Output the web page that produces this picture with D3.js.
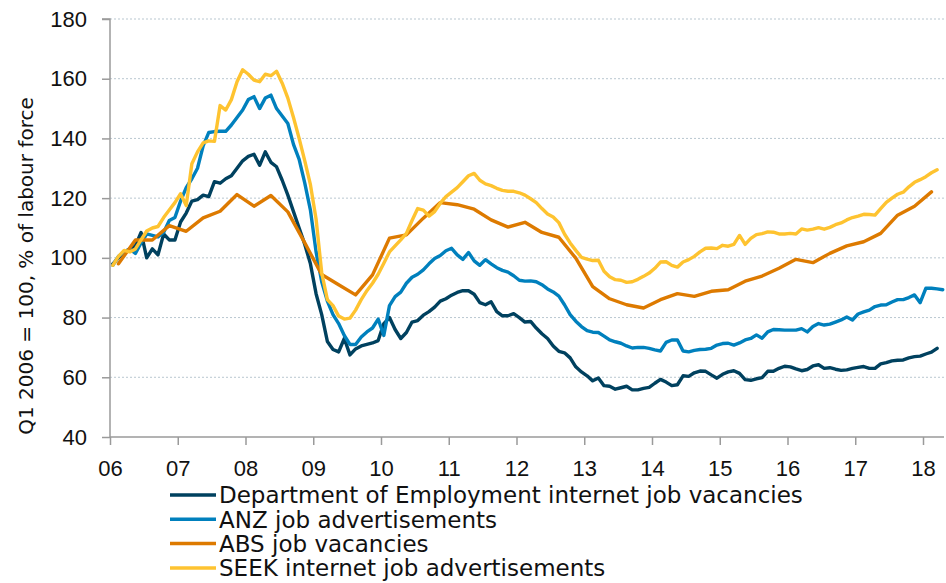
<!DOCTYPE html>
<html>
<head>
<meta charset="utf-8">
<script src="https://cdn.jsdelivr.net/npm/d3@7"></script>
<style>
  body { margin: 0; background: #fff; }
  svg { display: block; font-family: "DejaVu Sans", Verdana, sans-serif; }
</style>
</head>
<body>
<div id="chart"></div>
<script>
// monthly series, Jan 2006 onwards
const deptValues = [
  98, 100, 102, 103, 104, 108.5, 100, 103, 101, 108,
  106, 106, 112, 115, 119, 119.5, 121, 120.5, 125.5, 125,
  126.5, 127.5, 130, 132.5, 134, 134.7, 131, 135.5, 132, 130.5,
  126, 121, 115.5, 110, 104.5, 98, 88, 81, 72, 69.3,
  68.5, 73, 67.5, 69.5, 70.5, 71, 71.5, 72.3, 78, 80,
  76, 73, 75, 78.5, 79, 80.8, 82, 83.5, 85.5, 86.3,
  87.5, 88.4, 89, 89, 87.8, 85, 84.3, 85.3, 82, 80.6,
  80.6, 81.3, 80, 78.5, 78.7, 76.5, 74.6, 73, 70.5, 68.7,
  68.2, 66.5, 63.5, 61.8, 60.5, 58.8, 59.8, 57.2, 57, 56,
  56.5, 57, 55.8, 55.8, 56.3, 56.6, 58, 59.3, 58.4, 57.2,
  57.5, 60.5, 60.3, 61.5, 62.1, 62, 60.8, 59.7, 61, 61.8,
  62.2, 61.3, 59.2, 59, 59.5, 59.9, 62, 62, 63, 63.7,
  63.5, 62.8, 62.2, 62.6, 63.8, 64.2, 63, 63.2, 62.7, 62.3,
  62.5, 63, 63.3, 63.6, 63, 63, 64.5, 64.9, 65.5, 65.7,
  65.8, 66.5, 66.9, 67.1, 67.8, 68.4, 69.7
];
const anzValues = [
  97.5, 100.5, 102, 103, 101.5, 105, 108, 107.5, 107, 108.5,
  112.5, 113.5, 119, 123.5, 126.5, 130, 137.5, 142, 142.3, 142.4,
  142.4, 144.5, 147, 149.5, 153, 154, 150, 153.5, 154.5, 150,
  147.5, 145, 138, 133, 125, 116, 102, 92, 85.5, 81,
  78, 74, 71, 71, 73.5, 75.2, 76.5, 79.5, 74, 84,
  87, 88.5, 91.5, 93.5, 94.5, 96, 98, 99.8, 100.8, 102.4,
  103.2, 101, 99.5, 101.8, 99, 97.5, 99.4, 98, 96.7, 95.8,
  95.2, 94, 92.5, 92.2, 92.3, 92, 91, 89.6, 88.6, 87.2,
  84.3, 81, 78.8, 77, 75.6, 75.1, 75, 73.8, 72.5, 71.9,
  71.4, 70.5, 69.8, 70, 70, 69.7, 69.2, 68.8, 71.7, 72.5,
  72.5, 68.8, 68.5, 69, 69.3, 69.4, 69.7, 70.8, 71.3, 71.4,
  70.8, 71.5, 72.5, 73, 74.2, 73.1, 75.2, 76, 75.9, 75.8,
  75.8, 75.8, 76.3, 75.2, 77, 78, 77.5, 77.8, 78.5, 79.2,
  80.2, 79.2, 81.2, 81.9, 82.5, 83.7, 84.2, 84.3, 85.2, 86,
  86, 86.7, 87.6, 85, 89.8, 89.8, 89.6, 89.3
];
const seekValues = [
  97.5, 100.5, 102.5, 102, 103, 106, 109, 110, 110.5, 113.5,
  116, 118.5, 121.5, 117.5, 131.5, 135.5, 138.5, 139.2, 139, 151,
  149.5, 153, 159, 163, 161.5, 159.5, 159, 161.5, 161, 162.5,
  158.5, 153.5, 147, 140, 132.5, 124.5, 113, 95, 86, 84,
  80.5, 79.5, 79.8, 82.5, 86, 89, 91.5, 94.5, 98.2, 102,
  104, 106, 108.2, 112.5, 116.5, 116, 114, 115.5, 118.3, 120.5,
  122, 123.5, 125.5, 127.5, 128.3, 126, 124.8, 124.2, 123.3, 122.6,
  122.3, 122.3, 121.8, 121, 119.8, 118.5, 116.5, 114.7, 113.7, 111.8,
  108, 105, 102.5, 100.2, 99.6, 99.1, 99.2, 95.5, 93.7, 92.7,
  92.5, 91.8, 92, 92.8, 93.8, 94.9, 96.5, 98.6, 98.7, 97.5,
  96.9, 98.6, 99.4, 100.5, 102, 103.2, 103.3, 103.1, 104.2, 103.9,
  104.5, 107.5, 104.5, 106.5, 107.8, 108.1, 108.7, 108.6, 108, 108,
  108.2, 108, 109.7, 109.3, 109.6, 110.1, 109.6, 110.2, 111.1, 111.7,
  112.7, 113.5, 114, 114.6, 114.5, 114.3, 116.5, 118.6, 120, 121.3,
  122, 123.8, 125.3, 126.2, 127.2, 128.5, 129.5
];
// quarterly, 2006 Q1 onwards
const absValues = [
  98, 106, 106, 110.8, 108.9, 113.4, 115.6, 121.2, 117.3, 120.9,
  115.4, 105, 94.4, 91, 87.6, 94.3, 106.6, 107.7, 113.3, 118.5,
  117.8, 116.3, 112.7, 110.3, 111.9, 108.5, 106.9, 99.9, 90.4, 86.3,
  84.3, 83.2, 86, 88, 87.1, 88.8, 89.3, 92.2, 93.9, 96.5,
  99.5, 98.4, 101.5, 104, 105.4, 108.2, 114.3, 117.3, 122.1
];

const seriesNames = [
  "Department of Employment internet job vacancies",
  "ANZ job advertisements",
  "ABS job vacancies",
  "SEEK internet job advertisements"
];
const seriesColors = ["#00415f", "#0080bd", "#dd7a00", "#fec330"];

const yTicks = [40, 60, 80, 100, 120, 140, 160, 180];
const xTickYears = [2006, 2007, 2008, 2009, 2010, 2011, 2012, 2013, 2014, 2015, 2016, 2017, 2018];
const xTickLabels = ["06", "07", "08", "09", "10", "11", "12", "13", "14", "15", "16", "17", "18"];
const yTitle = "Q1 2006 = 100, % of labour force";

const width = 946, height = 583;
const margin = { top: 19, right: 2, bottom: 146, left: 110 };

const svg = d3.select("#chart").append("svg")
  .attr("width", width)
  .attr("height", height);

const x = d3.scaleLinear()
  .domain([2006, 2018.31])
  .range([margin.left, width - margin.right]);
const y = d3.scaleLinear()
  .domain([40, 180])
  .range([height - margin.bottom, margin.top]);

const monthly = vals => vals.map((v, i) => ({ t: 2006 + (i + 0.5) / 12, v: v }));
const quarterly = vals => vals.map((v, i) => ({ t: 2006 + (i * 3 + 1.5) / 12, v: v }));
const series = [monthly(deptValues), monthly(anzValues), quarterly(absValues), monthly(seekValues)];

// gridlines
svg.append("g")
  .selectAll("line")
  .data(yTicks.slice(1))
  .enter()
  .append("line")
  .attr("x1", margin.left)
  .attr("x2", width - margin.right)
  .attr("y1", d => y(d))
  .attr("y2", d => y(d))
  .style("stroke", "#b9c7d0")
  .style("stroke-width", 1)
  .style("stroke-dasharray", "2,2");

// y axis
const yAxis = svg.append("g")
  .attr("transform", `translate(${margin.left},0)`)
  .call(d3.axisLeft(y).tickValues(yTicks).tickSize(8).tickPadding(15));
yAxis.selectAll("text").style("font-size", "22px").style("fill", "#111");

// x axis
const xAxis = svg.append("g")
  .attr("transform", `translate(0,${y(40)})`)
  .call(d3.axisBottom(x).tickValues(xTickYears).tickSize(8).tickPadding(15)
    .tickFormat((d, i) => xTickLabels[i]));
xAxis.selectAll("text").style("font-size", "22px").style("fill", "#111");

svg.selectAll(".domain, .tick line")
  .style("stroke", "#9a9a9a")
  .style("stroke-width", 1.5);
yAxis.select(".domain").attr("d", `M-8,${y(180)}H0V${y(40)}`);
xAxis.select(".domain").attr("d", `M${margin.left},0H${width - margin.right}`);

// y axis title
svg.append("text")
  .attr("transform", "translate(33,266) rotate(-90)")
  .style("text-anchor", "middle")
  .style("font-size", "20px")
  .style("fill", "#111")
  .text(yTitle);

// lines
const line = d3.line()
  .x(d => x(d.t))
  .y(d => y(d.v));

svg.append("g")
  .selectAll("path")
  .data(series)
  .enter()
  .append("path")
  .attr("d", line)
  .style("fill", "none")
  .style("stroke", (d, i) => seriesColors[i])
  .style("stroke-width", 3.4)
  .style("stroke-linejoin", "round")
  .style("stroke-linecap", "round");

// legend
const legend = svg.append("g")
  .selectAll("g")
  .data(seriesNames)
  .enter()
  .append("g")
  .attr("transform", (d, i) => `translate(170,${495 + i * 24.3})`);

legend.append("line")
  .attr("x1", 0)
  .attr("x2", 46)
  .style("stroke", (d, i) => seriesColors[i])
  .style("stroke-width", 3.5);

legend.append("text")
  .attr("x", 49)
  .attr("dy", "0.36em")
  .style("font-size", "23px")
  .style("fill", "#111")
  .text(d => d);
</script>
</body>
</html>
